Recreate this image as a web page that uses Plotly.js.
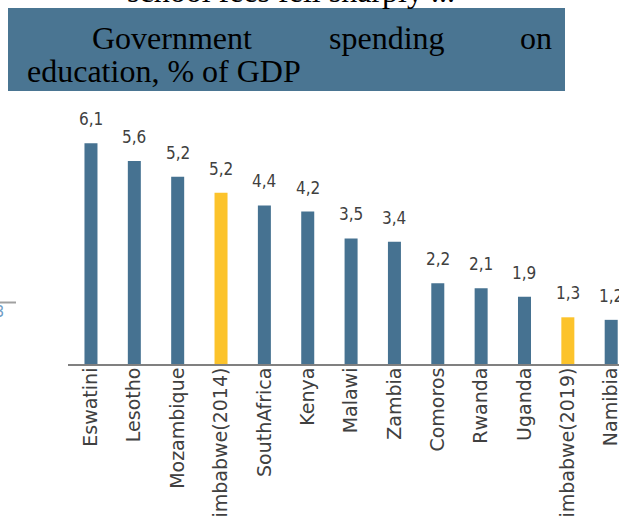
<!DOCTYPE html>
<html>
<head>
<meta charset="utf-8">
<script src="https://cdn.plot.ly/plotly-3.0.1.min.js"></script>
<style>html,body{margin:0;padding:0;background:#fff;overflow:hidden}#chart{width:619px;height:516px}</style>
</head>
<body>
<div id="chart"></div>
<script>
// Data
var categories = ["Eswatini","Lesotho","Mozambique","Zimbabwe(2014)","SouthAfrica","Kenya","Malawi","Zambia","Comoros","Rwanda","Uganda","Zimbabwe(2019)","Namibia"];
var barHeights = [6.1, 5.61, 5.17, 4.73, 4.38, 4.21, 3.47, 3.38, 2.23, 2.09, 1.86, 1.29, 1.22];
var valueLabels = ["6,1","5,6","5,2","5,2","4,4","4,2","3,5","3,4","2,2","2,1","1,9","1,3","1,2"];
var titleLine1 = ["Government","spending","on"];
var titleLine2 = "education, % of GDP";
var cutTopText = "school fees fell sharply ...";

// Layout geometry (pixels)
var W = 619, H = 516;
var L = 68, R = 0, T = 129, B = 152;
var pw = W - L - R, ph = H - T - B;
function px(x){ return (x - L) / pw; }
function py(y){ return (H - B - y) / ph; }

var blue = "#467291", yellow = "#fcc32b";
var colors = categories.map(function(c){ return c.indexOf("Zimbabwe") === 0 ? yellow : blue; });

var trace = {
  type: "bar",
  x: categories,
  y: barHeights,
  width: 0.3,
  marker: {color: colors, line: {width: 0}},
  hoverinfo: "skip"
};

var annotations = categories.map(function(c, i){
  return {
    x: c, y: barHeights[i], xref: "x", yref: "y",
    text: valueLabels[i], showarrow: false,
    yanchor: "bottom", xanchor: "center", yshift: 12,
    font: {family: "DejaVu Sans Condensed, DejaVu Sans, sans-serif", size: 17, color: "#404040"}
  };
});

var serif = {family: "Liberation Serif, Times New Roman, serif", size: 32, color: "#000"};
// Title words (justified first line)
var line1X = [90, 327, 518];
titleLine1.forEach(function(w, i){
  annotations.push({xref: "paper", yref: "paper", x: px(line1X[i]), y: py(50),
    xanchor: "left", yanchor: "bottom", yshift: -8, text: w, showarrow: false, font: serif});
});
annotations.push({xref: "paper", yref: "paper", x: px(25), y: py(83),
  xanchor: "left", yanchor: "bottom", yshift: -8, text: titleLine2, showarrow: false, font: serif});
// Cut-off text at the very top
annotations.push({xref: "paper", yref: "paper", x: px(291), y: py(2.5),
  xanchor: "center", yanchor: "bottom", yshift: -8, text: cutTopText, showarrow: false, font: serif});
// Remnant of neighbouring chart on the left
annotations.push({xref: "paper", yref: "paper", x: px(6), y: py(311),
  xanchor: "right", yanchor: "middle", text: "3", showarrow: false,
  font: {family: "DejaVu Sans Condensed, DejaVu Sans, sans-serif", size: 16, color: "#6f9cc4"}});

var layout = {
  width: W, height: H,
  margin: {l: L, r: R, t: T, b: B, pad: 0},
  paper_bgcolor: "#fff", plot_bgcolor: "#fff",
  showlegend: false,
  xaxis: {
    type: "category",
    range: [-0.53, 12.18],
    showline: true, linecolor: "#808080", linewidth: 2,
    showgrid: false, zeroline: false, ticks: "",
    tickangle: -90,
    ticklabelstandoff: -6,
    tickfont: {family: "DejaVu Sans, sans-serif", size: 19, color: "#404040"},
    fixedrange: true
  },
  yaxis: {
    range: [0, ph / 36.2],
    visible: false, showgrid: false, zeroline: false, fixedrange: true
  },
  shapes: [
    {type: "rect", xref: "paper", yref: "paper", x0: px(8), x1: px(565), y0: py(91), y1: py(8),
     fillcolor: "#4a7592", line: {width: 0}, layer: "below"},
    {type: "line", xref: "paper", yref: "paper", x0: px(0), x1: px(16), y0: py(302.5), y1: py(302.5),
     line: {color: "#a0a0a0", width: 2}}
  ],
  annotations: annotations
};

Plotly.newPlot("chart", [trace], layout, {displayModeBar: false, staticPlot: true});
</script>
</body>
</html>
